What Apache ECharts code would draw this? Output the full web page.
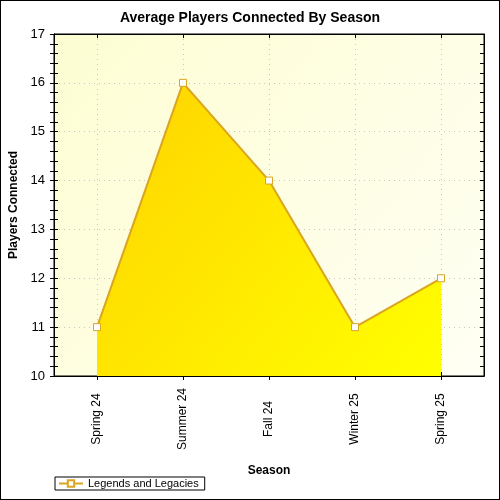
<!DOCTYPE html>
<html>
<head>
<meta charset="utf-8">
<script src="https://cdn.jsdelivr.net/npm/echarts@6/dist/echarts.min.js"></script>
<style>
  html, body { margin: 0; padding: 0; background: #fff; }
  #main { width: 498px; height: 498px; border: 1px solid #000; }
</style>
</head>
<body>
<div id="main"></div>
<script>
const seasons = ['Spring 24', 'Summer 24', 'Fall 24', 'Winter 25', 'Spring 25'];
const playersConnected = [11, 16, 14, 11, 12];
const seriesName = 'Legends and Legacies';
const yMin = 10;
const yMax = 17;

const font = 'Liberation Sans, Arial, sans-serif';
const gold = '#DAA520';
const dots = { show: true, lineStyle: { color: '#c8c8c8', width: 1, type: [1, 4] } };

// y axis: outer ticks carry the labels, an inner copy makes the ticks cross the line
const yBase = {
  type: 'value', min: yMin, max: yMax, interval: 1,
  axisLine: { show: true, lineStyle: { color: '#000' } },
  axisTick: { show: true, length: 4, lineStyle: { color: '#000' } },
  minorTick: { show: true, splitNumber: 5, length: 4, lineStyle: { color: '#000' } },
  splitLine: { show: false },
  axisLabel: { show: false },
};

const xBase = {
  type: 'category', data: seasons, boundaryGap: true,
  axisLine: { show: true, lineStyle: { color: '#000' } },
  axisTick: { show: true, alignWithLabel: true, length: 4, lineStyle: { color: '#000' } },
  splitLine: { show: false },
  axisLabel: { show: false },
};

const chart = echarts.init(document.getElementById('main'), null, { renderer: 'canvas' });
chart.setOption({
  backgroundColor: '#fff',
  animation: false,
  title: {
    text: 'Average Players Connected By Season',
    left: 'center', top: 5,
    textStyle: { fontFamily: font, fontSize: 14, fontWeight: 'bold', color: '#000' },
  },
  legend: {
    data: [seriesName],
    left: 54, top: 476,
    padding: [1, 6, 1, 3],
    borderColor: '#000', borderWidth: 1,
    itemWidth: 24, itemHeight: 8,
    textStyle: { fontFamily: font, fontSize: 11, color: '#000' },
  },
  grid: {
    left: 53, right: 15, top: 33, bottom: 123,
    outerBoundsMode: 'none',
    containLabel: false,
    show: true,
    borderColor: '#000', borderWidth: 1,
    backgroundColor: new echarts.graphic.LinearGradient(0, 0, 1, 1, [
      { offset: 0, color: '#fdfdd2' },
      { offset: 1, color: '#fffff4' },
    ]),
  },
  xAxis: [
    Object.assign({}, xBase, {
      position: 'bottom',
      name: 'Season', nameLocation: 'middle', nameGap: 89,
      nameTextStyle: { fontFamily: font, fontSize: 12, fontWeight: 'bold', color: '#000' },
      splitLine: Object.assign({ alignWithLabel: true }, dots),
      axisLabel: {
        show: true, rotate: 90, margin: 43, align: 'center', verticalAlign: 'middle',
        fontFamily: font, fontSize: 12, color: '#000', interval: 0,
      },
    }),
    Object.assign({}, xBase, { position: 'bottom', axisTick: Object.assign({}, xBase.axisTick, { inside: true }) }),
    Object.assign({}, xBase, { position: 'top', axisTick: Object.assign({}, xBase.axisTick, { inside: true }) }),
  ],
  yAxis: [
    Object.assign({}, yBase, {
      position: 'left',
      name: 'Players Connected', nameLocation: 'middle', nameGap: 31,
      nameTextStyle: { fontFamily: font, fontSize: 12, fontWeight: 'bold', color: '#000' },
      splitLine: dots,
      axisLabel: { show: true, margin: 9, fontFamily: font, fontSize: 13, color: '#000' },
    }),
    Object.assign({}, yBase, {
      position: 'left',
      axisTick: Object.assign({}, yBase.axisTick, { inside: true }),
    }),
    Object.assign({}, yBase, {
      position: 'right',
      axisTick: Object.assign({}, yBase.axisTick, { inside: true }),
    }),
  ],
  series: [{
    name: seriesName,
    type: 'line',
    data: playersConnected,
    xAxisIndex: 0, yAxisIndex: 0,
    symbol: 'rect', symbolSize: 7, showAllSymbol: true,
    itemStyle: { color: '#fff', borderColor: gold, borderWidth: 1 },
    lineStyle: { color: gold, width: 2 },
    areaStyle: {
      opacity: 1,
      color: new echarts.graphic.LinearGradient(0, 0, 1, 1, [
        { offset: 0, color: '#ffd200' },
        { offset: 1, color: '#ffff00' },
      ]),
    },
    z: 3,
  }],
});
</script>
</body>
</html>
